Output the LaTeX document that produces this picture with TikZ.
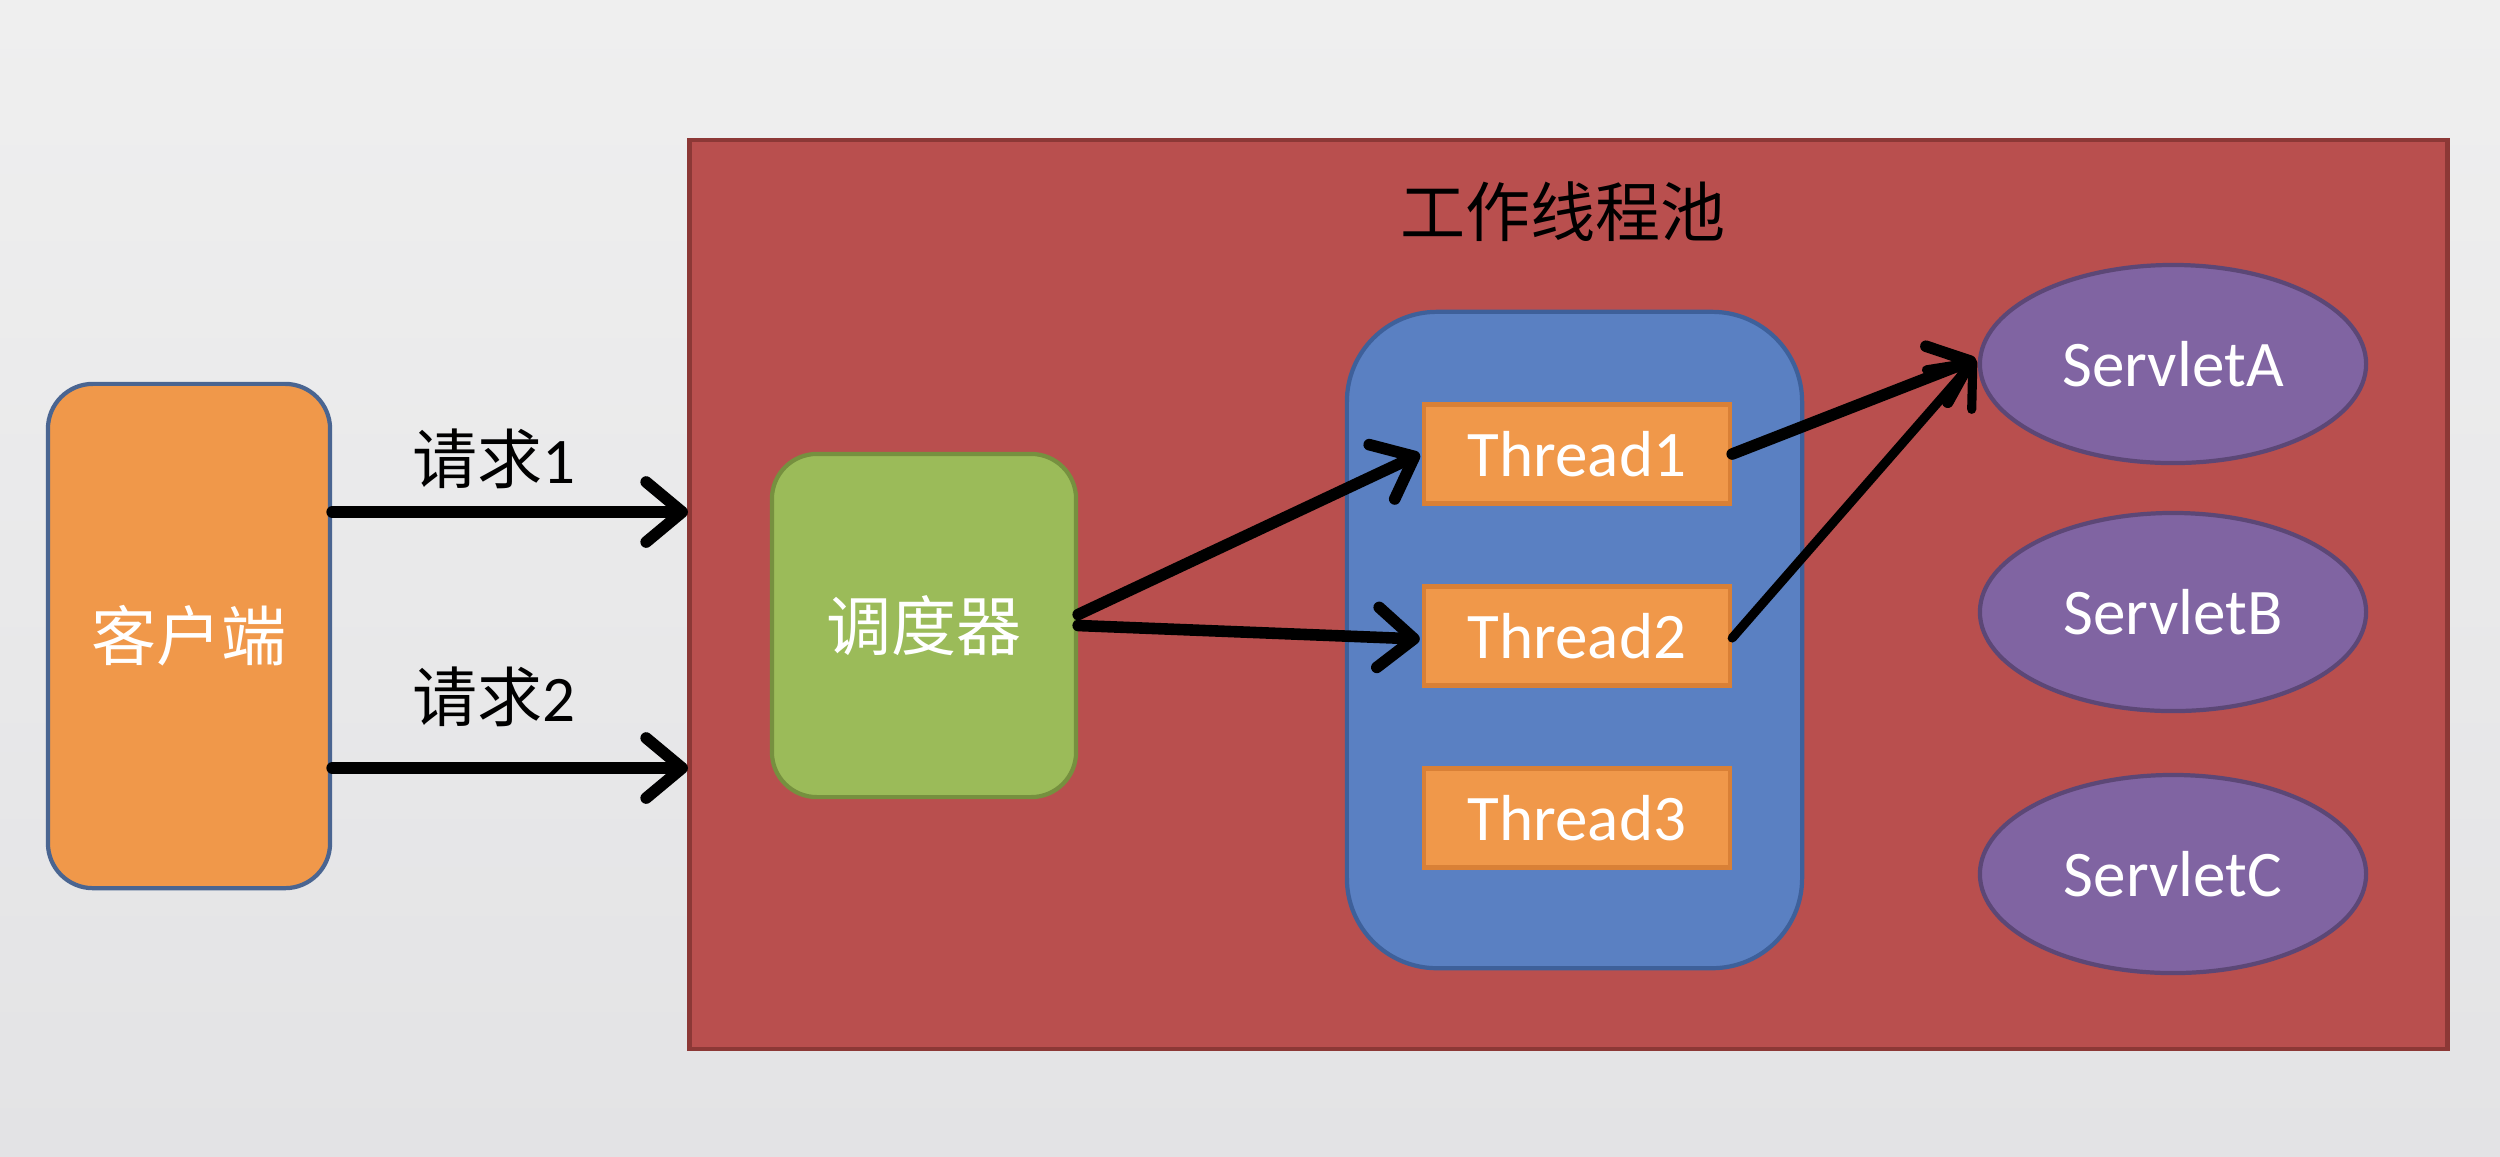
\documentclass[tikz,border=0pt]{standalone}
\usepackage{fontspec}
\setmainfont{Carlito}
\newfontfamily\cjk{Noto Sans CJK SC}
\usetikzlibrary{arrows.meta,shapes.geometric,calc}
\definecolor{bgtop}{HTML}{EFEFEF}
\definecolor{bgbot}{HTML}{E3E3E5}
\definecolor{cliorange}{HTML}{F0984A}
\definecolor{cliborder}{HTML}{4A6591}
\definecolor{poolred}{HTML}{B94F4E}
\definecolor{poolborder}{HTML}{8C3836}
\definecolor{schgreen}{HTML}{9BBB59}
\definecolor{schborder}{HTML}{76903F}
\definecolor{thblue}{HTML}{5A80C2}
\definecolor{thblueborder}{HTML}{3E609A}
\definecolor{throrange}{HTML}{F0984A}
\definecolor{throrborder}{HTML}{D98036}
\definecolor{svpurple}{HTML}{8064A2}
\definecolor{svborder}{HTML}{5C4776}
\tikzset{
  txt/.style={font=\fontsize{18.5pt}{22pt}\selectfont},
  clientbox/.style={txt,draw=cliborder,line width=1.2pt,fill=cliorange,rounded corners=0.45cm,
    minimum width=2.82cm,minimum height=5.04cm,inner sep=0pt,text=white},
  poolbox/.style={draw=poolborder,line width=1.2pt,fill=poolred,
    minimum width=17.57cm,minimum height=9.09cm,inner sep=0pt},
  schedbox/.style={txt,draw=schborder,line width=1.2pt,fill=schgreen,rounded corners=0.45cm,
    minimum width=3.04cm,minimum height=3.43cm,inner sep=0pt,text=white},
  tpbox/.style={draw=thblueborder,line width=1.2pt,fill=thblue,rounded corners=0.9cm,
    minimum width=4.55cm,minimum height=6.56cm,inner sep=0pt},
  thbox/.style={txt,draw=throrborder,line width=1.2pt,fill=throrange,
    minimum width=3.06cm,minimum height=0.99cm,inner sep=0pt,text=white},
  svnode/.style={txt,ellipse,draw=svborder,line width=1.2pt,fill=svpurple,
    minimum width=3.86cm,minimum height=1.98cm,inner sep=0pt,text=white},
  lbl/.style={txt,text=black,inner sep=0pt},
  arr/.style={line width=3.3pt,line cap=round,
    -{Straight Barb[length=0.36cm,width=0.6cm,line cap=round,line join=round]}},
}
\begin{document}
\begin{tikzpicture}[x=0.01cm,y=-0.01cm]
\useasboundingbox (0,0) rectangle (2500,1156);
\shade[top color=bgtop,bottom color=bgbot] (0,0) rectangle (2500,1156);

\node[clientbox] (client) at (189,636) {\cjk 客户端};
\node[poolbox] (pool) at (1568.5,594.5) {};
\node[lbl] (title) at (1563,212) {\cjk 工作线程池};

\node[lbl] (req1) at (494,459) {{\cjk 请求}1};
\node[lbl] (req2) at (494,697) {{\cjk 请求}2};
\coordinate (r1) at (688,512);
\coordinate (r2) at (688,768);
\draw[arr] (client.east |- r1) -- (r1);
\draw[arr] (client.east |- r2) -- (r2);

\node[schedbox] (sched) at (924,625.5) {\cjk 调度器};
\node[tpbox] (tp) at (1574.5,640) {};
\node[thbox] (t1) at (1577,454) {Thread1};
\node[thbox] (t2) at (1577,636) {Thread2};
\node[thbox] (t3) at (1577,818) {Thread3};

\node[svnode] (sa) at (2173,364) {ServletA};
\node[svnode] (sb) at (2173,612) {ServletB};
\node[svnode] (sc) at (2173,874) {ServletC};

\draw[arr] ([yshift=0.11cm]sched.east) -- ([xshift=-0.02cm]t1.west);
\draw[arr] ([yshift=0cm]sched.east) -- ([xshift=-0.02cm,yshift=-0.03cm]t2.west);
\draw[arr] (t1.east) -- ([xshift=-0.02cm,yshift=0.05cm]sa.west);
\draw[arr,line width=2.6pt] ([yshift=-0.02cm]t2.east) -- ([xshift=-0.02cm,yshift=0.05cm]sa.west);
\end{tikzpicture}
\end{document}
